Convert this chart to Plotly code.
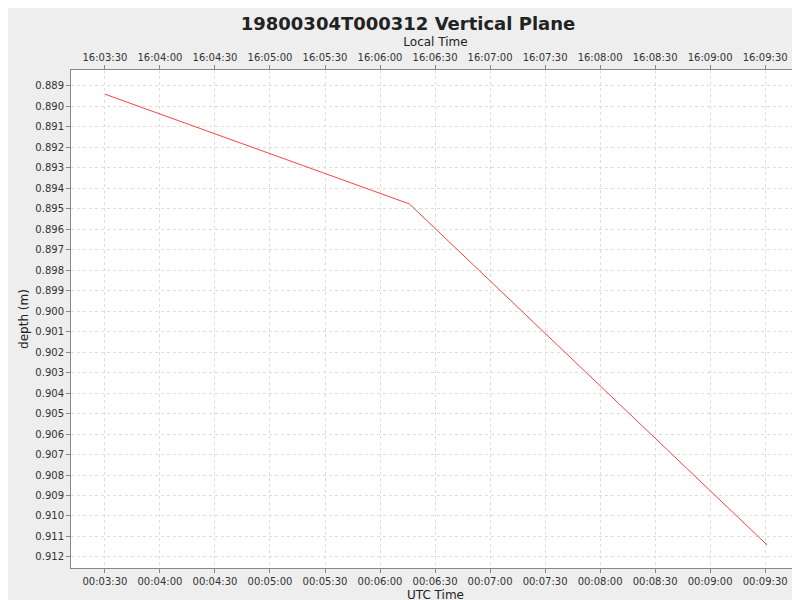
import plotly.graph_objects as go
from datetime import datetime, timedelta

times = ["1980-03-04 00:03:30", "1980-03-04 00:06:16", "1980-03-04 00:09:31"]
depths = [0.8894, 0.89476, 0.91141]
local_offset_h = 16

t = [datetime.fromisoformat(s) for s in times]
lt = [x + timedelta(hours=local_offset_h) for x in t]
x0 = datetime.fromisoformat("1980-03-04 00:03:11.5"); x1 = datetime.fromisoformat("1980-03-04 00:09:49")

fig = go.Figure()
fig.add_trace(go.Scatter(x=t, y=depths, mode="lines", line=dict(color="#ff4040", width=1), showlegend=False))
fig.add_trace(go.Scatter(x=lt, y=depths, mode="lines", line=dict(width=0), opacity=0, xaxis="x2", showlegend=False, hoverinfo="skip"))
ax = dict(type="date", tickformat="%H:%M:%S", dtick=30000, showgrid=True, gridcolor="#dddddd", griddash="3px,3px",
          ticks="outside", ticklen=4, tickcolor="#888", showline=True, linecolor="#888", mirror=False,
          tickfont=dict(size=10, color="#333"), zeroline=False, automargin=False)
fig.update_layout(
    width=800, height=600, paper_bgcolor="#eeeeee", plot_bgcolor="white",
    font=dict(family="DejaVu Sans", color="#222"),
    title=dict(text="<b>19800304T000312 Vertical Plane</b>", x=0.5, y=0.985, font=dict(size=18)),
    margin=dict(l=63, r=8, t=62, b=40),
    xaxis=dict(ax, range=[x0, x1], title=dict(text="UTC Time", font=dict(size=12), standoff=4)),
    xaxis2=dict(ax, overlaying="x", side="top", showgrid=False,
                range=[x0 + timedelta(hours=local_offset_h), x1 + timedelta(hours=local_offset_h)],
                title=dict(text="Local Time", font=dict(size=12), standoff=2)),
    yaxis=dict(range=[0.91254, 0.88822], dtick=0.001, tickformat=".3f", showgrid=True, gridcolor="#dddddd",
               griddash="3px,3px", ticks="outside", ticklen=4, tickcolor="#888", showline=True, linecolor="#888",
               tickfont=dict(size=10, color="#333"), zeroline=False, automargin=False,
               title=dict(text="depth (m)", font=dict(size=12), standoff=4)),
)
fig.write_html("out.html")
